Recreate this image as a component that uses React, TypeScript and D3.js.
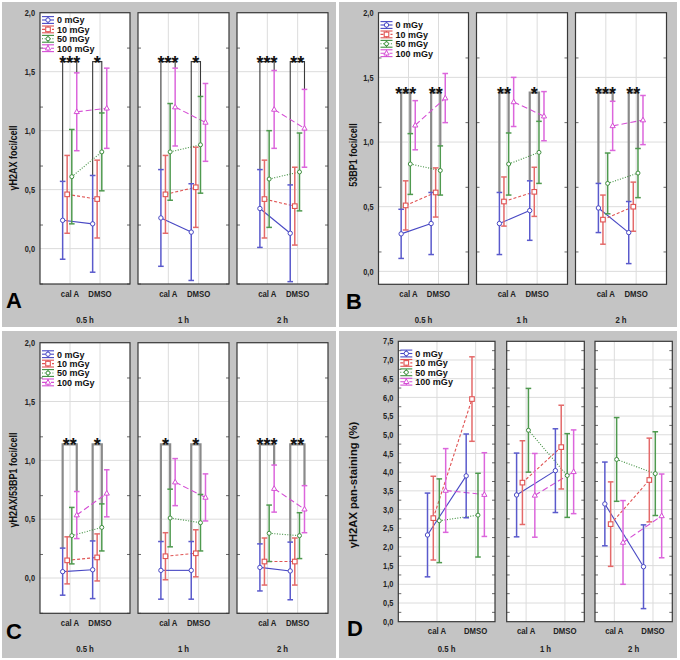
import React from "react";
import * as d3 from "d3";

const seriesNames = ["0 mGy", "10 mGy", "50 mGy", "100 mGy"];
const categories = ["cal A", "DMSO"];
const timePoints = ["0.5 h", "1 h", "2 h"];

// columns: 0.5 h cal A, 0.5 h DMSO, 1 h cal A, 1 h DMSO, 2 h cal A, 2 h DMSO
const aMeans = [
  [0.24, 0.21, 0.26, 0.14, 0.34, 0.13],
  [0.46, 0.42, 0.46, 0.52, 0.42, 0.36],
  [0.61, 0.82, 0.82, 0.88, 0.59, 0.65],
  [1.16, 1.19, 1.2, 1.07, 1.18, 1.02],
];
const aErrors = [
  [0.33, 0.41, 0.41, 0.41, 0.33, 0.41],
  [0.33, 0.33, 0.33, 0.34, 0.33, 0.33],
  [0.4, 0.33, 0.41, 0.41, 0.41, 0.33],
  [0.33, 0.34, 0.33, 0.33, 0.33, 0.33],
];
const aStars = ["***", "*", "***", "*", "***", "**"];
const aBracketTo = [3, 2, 3, 2, 3, 3];

const bMeans = [
  [0.29, 0.37, 0.37, 0.47, 0.49, 0.3],
  [0.51, 0.61, 0.54, 0.615, 0.4, 0.5],
  [0.83, 0.78, 0.83, 0.92, 0.68, 0.76],
  [1.13, 1.34, 1.31, 1.2, 1.125, 1.17],
];
const bErrors = [
  [0.19, 0.24, 0.24, 0.23, 0.19, 0.24],
  [0.19, 0.19, 0.19, 0.19, 0.19, 0.19],
  [0.235, 0.19, 0.24, 0.24, 0.235, 0.19],
  [0.19, 0.19, 0.19, 0.19, 0.19, 0.19],
];
const bStars = ["***", "**", "**", "*", "***", "**"];
const bBracketTo = [2, 2, 2, 2, 3, 2];

const cMeans = [
  [0.054, 0.07, 0.065, 0.065, 0.09, 0.06],
  [0.15, 0.175, 0.185, 0.21, 0.14, 0.14],
  [0.36, 0.43, 0.51, 0.47, 0.38, 0.36],
  [0.535, 0.72, 0.815, 0.685, 0.76, 0.585],
];
const cErrors = [
  [0.2, 0.245, 0.245, 0.245, 0.2, 0.245],
  [0.2, 0.2, 0.2, 0.2, 0.2, 0.2],
  [0.24, 0.2, 0.245, 0.24, 0.24, 0.195],
  [0.2, 0.2, 0.2, 0.2, 0.2, 0.2],
];
const cStars = ["**", "*", "*", "*", "***", "**"];
const cBracketTo = [3, 2, 2, 2, 3, 3];

const dMeans = [
  [2.32, 3.9, 3.39, 4.04, 3.15, 1.47],
  [2.77, 5.955, 3.72, 4.67, 2.61, 3.79],
  [2.7, 2.85, 5.12, 3.91, 4.34, 3.96],
  [3.51, 3.4, 3.38, 4.01, 2.12, 2.83],
];
const dErrors = [
  [1.12, 1.12, 1.12, 1.12, 1.12, 1.12],
  [1.12, 1.13, 1.12, 1.12, 1.13, 1.12],
  [1.12, 1.12, 1.12, 1.12, 1.12, 1.12],
  [1.12, 1.12, 1.12, 1.12, 1.12, 1.12],
];

const abcTicks = [0, 0.5, 1, 1.5, 2];
const dTicks = [0, 0.5, 1, 1.5, 2, 2.5, 3, 3.5, 4, 4.5, 5, 5.5, 6, 6.5, 7, 7.5];

const colors = ["#4848c4", "#e05454", "#3f8f3f", "#d54ed5"];
const errColors = ["#5a5acc", "#e46a6a", "#4f9a4f", "#dc66dc"];
const dashes = [undefined, "3,2", "1,1.6", "6,3"];
const offsets = [-0.245, -0.095, 0.06, 0.225];

const FONT = "'Liberation Sans', Arial, Helvetica, sans-serif";

type Frame = { x0: number; x1: number; dom: [number, number] };
type Panel = {
  letter: string;
  bg: [number, number, number, number];
  frames: Frame[];
  yTop: number;
  yBottom: number;
  yDomain: [number, number];
  ticks: number[];
  title: string;
  titleScale: number;
  titleX: number;
  titleY: number;
  letterX: number;
  letterY: number;
  legendTop: number;
  timeY: number;
  means: number[][];
  errors: number[][];
  stars?: string[];
  bracketTo?: number[];
  bracketVal?: number;
  bracketColor?: string;
  bracketWidth?: number;
};

const abcFrames = (dx: number): Frame[] => [
  { x0: 40 + dx, x1: 130 + dx, dom: [0, 3] },
  { x0: 138 + dx, x1: 229 + dx, dom: [0, 3] },
  { x0: 237 + dx, x1: 328 + dx, dom: [0, 3] },
];

const panels: Panel[] = [
  {
    letter: "A", bg: [2, 2, 334, 325], frames: abcFrames(0), yTop: 12.7, yBottom: 284,
    yDomain: [-0.3, 2.0], ticks: abcTicks, title: "\u03b3H2AX foci/cell", titleScale: 0.82, titleX: 13.5, titleY: 158,
    letterX: 6, letterY: 308, legendTop: 20, timeY: 323,
    means: aMeans, errors: aErrors, stars: aStars, bracketTo: aBracketTo, bracketVal: 1.585,
    bracketColor: "#3a3a3a", bracketWidth: 1.1,
  },
  {
    letter: "B", bg: [339, 2, 338, 325], frames: abcFrames(338.5), yTop: 12.7, yBottom: 284.3,
    yDomain: [-0.1, 2.0], ticks: abcTicks, title: "53BP1 foci/cell", titleScale: 0.82, titleX: 353.5, titleY: 155,
    letterX: 346, letterY: 308.5, legendTop: 25, timeY: 323,
    means: bMeans, errors: bErrors, stars: bStars, bracketTo: bBracketTo, bracketVal: 1.382,
    bracketColor: "#8a8a8a", bracketWidth: 2.2,
  },
  {
    letter: "C", bg: [2, 331, 334, 327], frames: abcFrames(0), yTop: 342.7, yBottom: 613.3,
    yDomain: [-0.3, 2.0], ticks: abcTicks, title: "\u03b3H2AX/53BP1 foci/cell", titleScale: 0.82, titleX: 13.5, titleY: 480,
    letterX: 6, letterY: 638.5, legendTop: 354.2, timeY: 651.5,
    means: cMeans, errors: cErrors, stars: cStars, bracketTo: cBracketTo, bracketVal: 1.135,
    bracketColor: "#8a8a8a", bracketWidth: 2.2,
  },
  {
    letter: "D", bg: [339, 331, 338, 327],
    frames: [
      { x0: 398.3, x1: 495, dom: [0, 2.5] },
      { x0: 506.7, x1: 584.3, dom: [0.5, 2.5] },
      { x0: 595, x1: 672.3, dom: [0.5, 2.5] },
    ],
    yTop: 341.3, yBottom: 621.7, yDomain: [0, 7.5], ticks: dTicks,
    title: "\u03b3H2AX pan-staining (%)", titleScale: 1.02, titleX: 353.5, titleY: 485,
    letterX: 347, letterY: 635.5, legendTop: 353.5, timeY: 651.5,
    means: dMeans, errors: dErrors,
  },
];

// Bold text, horizontally condensed like the narrow face used in the original figure
function NText({
  x, y, size, sx = 0.82, anchor = "start", rotate = false, dy, fill = "#1a1a1a", children,
}: {
  x: number; y: number; size: number; sx?: number; anchor?: string; rotate?: boolean;
  dy?: string; fill?: string; children: React.ReactNode;
}) {
  return (
    <text
      transform={`translate(${x},${y})${rotate ? " rotate(-90)" : ""} scale(${sx},1)`}
      textAnchor={anchor as any}
      dy={dy}
      fontFamily={FONT}
      fontWeight="bold"
      fontSize={size}
      fill={fill}
    >
      {children}
    </text>
  );
}

function Marker({ s, x, y }: { s: number; x: number; y: number }) {
  const c = colors[s];
  if (s === 0) return <circle cx={x} cy={y} r={2.2} fill="#fff" stroke={c} strokeWidth={1} />;
  if (s === 1) return <rect x={x - 2.3} y={y - 2.3} width={4.6} height={4.6} fill="#fff" stroke={c} strokeWidth={1.1} />;
  if (s === 2) return <circle cx={x} cy={y} r={2} fill="#fff" stroke={c} strokeWidth={1} />;
  const p = `${x},${y - 2.8} ${x + 2.6},${y + 1.8} ${x - 2.6},${y + 1.8}`;
  return <polygon points={p} fill="#fff" stroke={c} strokeWidth={1} />;
}

function PanelView({ p }: { p: Panel }) {
  const y = d3.scaleLinear().domain(p.yDomain).range([p.yBottom, p.yTop]);
  const fmt = (v: number) => d3.format(".1f")(v).replace(".", ",");
  const step = p.ticks[1] - p.ticks[0];
  const minor = d3.range(p.yDomain[0], p.yDomain[1], step / 2).filter((v) => {
    const r = Math.abs(v / step - Math.round(v / step));
    return r > 0.25;
  });
  const f0 = p.frames[0];
  return (
    <g>
      <rect x={p.bg[0]} y={p.bg[1]} width={p.bg[2]} height={p.bg[3]} fill="#c4c4c4" />
      {p.frames.map((f, fi) => {
        const x = d3.scaleLinear().domain(f.dom).range([f.x0, f.x1]);
        const cols = [fi * 2, fi * 2 + 1];
        return (
          <g key={fi}>
            <rect x={f.x0} y={p.yTop} width={f.x1 - f.x0} height={p.yBottom - p.yTop} fill="#fff" />
            {p.ticks.map((t) => (
              <line key={"g" + t} x1={f.x0} x2={f.x1} y1={y(t)} y2={y(t)} stroke="#dcdcdc" strokeWidth={1} />
            ))}
            {categories.map((c, ci) => (
              <line key={"v" + c} x1={x(ci + 1)} x2={x(ci + 1)} y1={p.yTop} y2={p.yBottom} stroke="#dcdcdc" strokeWidth={1} />
            ))}
            {minor.map((t) => (
              <g key={"m" + t}>
                <line x1={f.x0} x2={f.x0 + 3} y1={y(t)} y2={y(t)} stroke="#444" strokeWidth={0.8} />
                <line x1={f.x1 - 3} x2={f.x1} y1={y(t)} y2={y(t)} stroke="#444" strokeWidth={0.8} />
              </g>
            ))}
            {p.stars &&
              cols.map((col, ci) => {
                const to = p.bracketTo![col];
                const xa = x(ci + 1 + offsets[0]);
                const xb = x(ci + 1 + offsets[to]);
                const yTopB = y(p.bracketVal!);
                const ya = y(p.means[0][col] + p.errors[0][col]);
                const yb = y(p.means[to][col] + p.errors[to][col]);
                return (
                  <g key={"b" + col}>
                    <path
                      d={`M${xa},${ya}V${yTopB}H${xb}V${yb}`}
                      fill="none"
                      stroke={p.bracketColor}
                      strokeWidth={p.bracketWidth}
                    />
                    <text
                      x={(xa + xb) / 2}
                      y={yTopB + 7}
                      textAnchor="middle"
                      fontFamily={FONT}
                      fontWeight="bold"
                      fontSize={18}
                      fill="#111"
                    >
                      {p.stars![col]}
                    </text>
                  </g>
                );
              })}
            {seriesNames.map((sn, s) => (
              <line
                key={"l" + s}
                x1={x(1 + offsets[s])}
                x2={x(2 + offsets[s])}
                y1={y(p.means[s][cols[0]])}
                y2={y(p.means[s][cols[1]])}
                stroke={colors[s]}
                strokeWidth={1.1}
                strokeDasharray={dashes[s]}
              />
            ))}
            {seriesNames.map((sn, s) =>
              cols.map((col, ci) => {
                const cx = x(ci + 1 + offsets[s]);
                const m = p.means[s][col];
                const e = p.errors[s][col];
                return (
                  <g key={"e" + s + "-" + col} stroke={errColors[s]} strokeWidth={1.5}>
                    <line x1={cx} x2={cx} y1={y(m - e)} y2={y(m + e)} />
                    <line x1={cx - 2.8} x2={cx + 2.8} y1={y(m - e)} y2={y(m - e)} />
                    <line x1={cx - 2.8} x2={cx + 2.8} y1={y(m + e)} y2={y(m + e)} />
                  </g>
                );
              })
            )}
            {seriesNames.map((sn, s) =>
              cols.map((col, ci) => (
                <Marker key={"k" + s + "-" + col} s={s} x={x(ci + 1 + offsets[s])} y={y(p.means[s][col])} />
              ))
            )}
            <rect
              x={f.x0}
              y={p.yTop}
              width={f.x1 - f.x0}
              height={p.yBottom - p.yTop}
              fill="none"
              stroke="#383838"
              strokeWidth={1.2}
            />
            {categories.map((c, ci) => (
              <NText key={"c" + c} x={x(ci + 1)} y={p.yBottom + 12.5} size={9.5} anchor="middle" fill="#222">
                {c}
              </NText>
            ))}
            <NText x={(f.x0 + f.x1) / 2} y={p.timeY} size={9.5} anchor="middle" fill="#222">
              {timePoints[fi]}
            </NText>
          </g>
        );
      })}
      {p.ticks.map((t) => (
        <NText key={"t" + t} x={f0.x0 - 5} y={y(t)} dy="0.35em" size={9} anchor="end" fill="#222">
          {fmt(t)}
        </NText>
      ))}
      {seriesNames.map((sn, s) => {
        const cy = p.legendTop + s * 9.4;
        const cx = f0.x0 + 8;
        return (
          <g key={"lg" + s}>
            <g stroke={colors[s]} strokeWidth={1.1}>
              <line x1={cx - 6} x2={cx + 6} y1={cy - 3.4} y2={cy - 3.4} />
              <line x1={cx - 6} x2={cx + 6} y1={cy + 3.4} y2={cy + 3.4} />
              <line x1={cx} x2={cx} y1={cy - 3.4} y2={cy + 3.4} />
              <line x1={cx - 6} x2={cx + 6} y1={cy} y2={cy} strokeDasharray={dashes[s]} />
            </g>
            <Marker s={s} x={cx} y={cy} />
            <NText x={f0.x0 + 17} y={cy + 3.4} size={9.3} sx={0.97} fill="#111">
              {sn}
            </NText>
          </g>
        );
      })}
      <NText x={p.titleX} y={p.titleY} rotate size={11} sx={p.titleScale} anchor="middle" dy="0.35em" fill="#111">
        {p.title}
      </NText>
      <text x={p.letterX} y={p.letterY} fontFamily={FONT} fontWeight="bold" fontSize={22} fill="#000">
        {p.letter}
      </text>
    </g>
  );
}

export default function App() {
  return (
    <svg
      width={680}
      height={660}
      viewBox="0 0 680 660"
      style={{ position: "absolute", left: 0, top: 0, display: "block" }}
    >
      <rect x={0} y={0} width={680} height={660} fill="#fff" />
      {panels.map((p) => (
        <PanelView key={p.letter} p={p} />
      ))}
    </svg>
  );
}
